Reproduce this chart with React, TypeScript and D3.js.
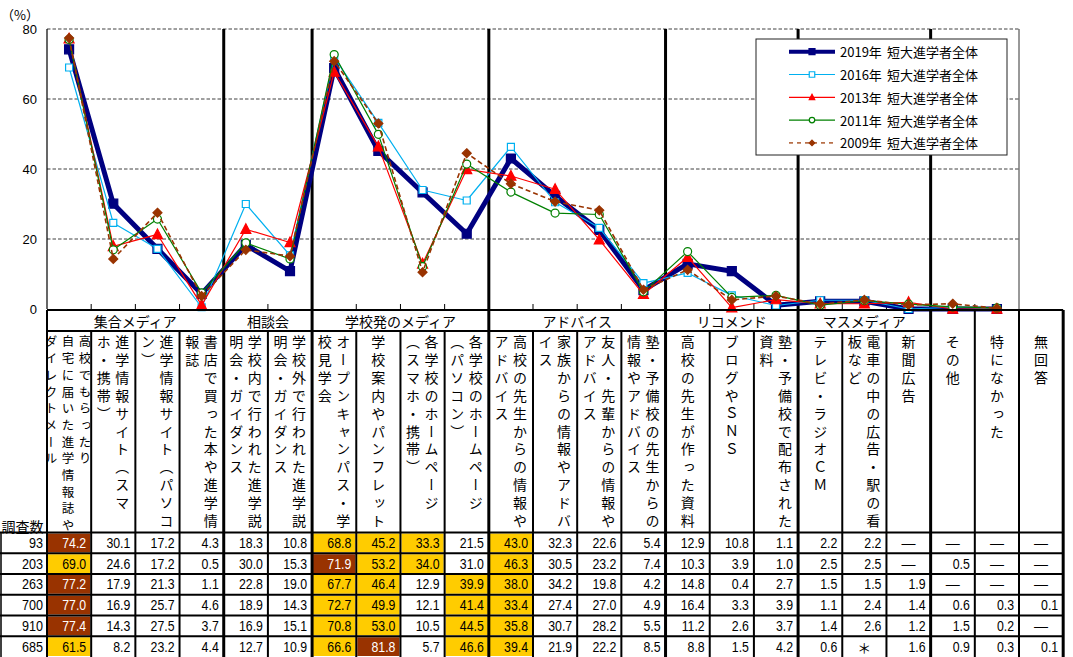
import React from 'react';
import * as d3 from 'd3';

// ---------- DATA ----------
const headerLines: string[][] = [
  ['高校でもらったり', '自宅に届いた進学情報誌や', 'ダイレクトメール'],
  ['進学情報サイト（スマ', 'ホ・携帯）'],
  ['進学情報サイト（パソコ', 'ン）'],
  ['書店で買った本や進学情', '報誌'],
  ['学校内で行われた進学説', '明会・ガイダンス'],
  ['学校外で行われた進学説', '明会・ガイダンス'],
  ['オープンキャンパス・学', '校見学会'],
  ['学校案内やパンフレット'],
  ['各学校のホームページ', '（スマホ・携帯）'],
  ['各学校のホームページ', '（パソコン）'],
  ['高校の先生からの情報や', 'アドバイス'],
  ['家族からの情報やアドバ', 'イス'],
  ['友人・先輩からの情報や', 'アドバイス'],
  ['塾・予備校の先生からの', '情報やアドバイス'],
  ['高校の先生が作った資料'],
  ['ブログやＳＮＳ'],
  ['塾・予備校で配布された', '資料'],
  ['テレビ・ラジオＣＭ'],
  ['電車の中の広告・駅の看', '板など'],
  ['新聞広告'],
  ['その他'],
  ['特になかった'],
  ['無回答'],
];

const groupNames = ['集合メディア', '相談会', '学校発のメディア', 'アドバイス', 'リコメンド', 'マスメディア'];
const groupStarts = [0, 4, 6, 10, 14, 17];
const groupEnds = [4, 6, 10, 14, 17, 20];

const seriesYears = ['2019年', '2016年', '2013年', '2011年', '2009年'];
const seriesLabel = '短大進学者全体';

const v2019: (number | null)[] = [74.2, 30.1, 17.2, 4.3, 18.3, 10.8, 68.8, 45.2, 33.3, 21.5, 43.0, 32.3, 22.6, 5.4, 12.9, 10.8, 1.1, 2.2, 2.2, null, null, null, null];
const v2016: (number | null)[] = [69.0, 24.6, 17.2, 0.5, 30.0, 15.3, 71.9, 53.2, 34.0, 31.0, 46.3, 30.5, 23.2, 7.4, 10.3, 3.9, 1.0, 2.5, 2.5, null, 0.5, null, null];
const v2013: (number | null)[] = [77.2, 17.9, 21.3, 1.1, 22.8, 19.0, 67.7, 46.4, 12.9, 39.9, 38.0, 34.2, 19.8, 4.2, 14.8, 0.4, 2.7, 1.5, 1.5, 1.9, null, null, null];
const v2011: (number | null)[] = [77.0, 16.9, 25.7, 4.6, 18.9, 14.3, 72.7, 49.9, 12.1, 41.4, 33.4, 27.4, 27.0, 4.9, 16.4, 3.3, 3.9, 1.1, 2.4, 1.4, 0.6, 0.3, 0.1];
const v2009: (number | null)[] = [77.4, 14.3, 27.5, 3.7, 16.9, 15.1, 70.8, 53.0, 10.5, 44.5, 35.8, 30.7, 28.2, 5.5, 11.2, 2.6, 3.7, 1.4, 2.6, 1.2, 1.5, 0.2, null];
const extraRow: (number | string | null)[] = [61.5, 8.2, 23.2, 4.4, 12.7, 10.9, 66.6, 81.8, 5.7, 46.6, 39.4, 21.9, 22.2, 8.5, 8.8, 1.5, 4.2, 0.6, '*', 1.6, 0.9, 0.3, 0.1];
const sampleSizes = [93, 203, 263, 700, 910, 685];
const yTicks = [0, 20, 40, 60, 80];
const surveyLabel = '調査数';
const unitLabel = '（%）';

// ---------- LAYOUT ----------
const W = 1073, H = 657;
const plotL = 47, plotR = 1019, plotT = 29, plotB = 309;
const PLOTTED = 22;
const JP = "'Noto Sans CJK JP', 'Noto Sans', sans-serif";
const NUM = "'Liberation Sans', Arial, sans-serif";

const seriesStyles = [
  { color: '#000080', width: 5, marker: 'square', fill: '#000080', size: 9, dash: undefined as string | undefined },
  { color: '#00B0F0', width: 1.2, marker: 'square', fill: '#ffffff', size: 7, dash: undefined },
  { color: '#FF0000', width: 1.2, marker: 'triangle', fill: '#FF0000', size: 10, dash: undefined },
  { color: '#008000', width: 1.2, marker: 'circle', fill: '#ffffff', size: 8, dash: undefined },
  { color: '#993300', width: 1.6, marker: 'diamond', fill: '#993300', size: 9, dash: '5,3' },
];

function markerPath(kind: string, s: number) {
  if (kind === 'square') return `M${-s / 2},${-s / 2}h${s}v${s}h${-s}Z`;
  if (kind === 'triangle') return `M0,${-s * 0.55}L${s / 2},${s * 0.42}L${-s / 2},${s * 0.42}Z`;
  if (kind === 'diamond') return `M0,${-s / 2}L${s / 2},0L0,${s / 2}L${-s / 2},0Z`;
  return '';
}

function Marker({ kind, x, y, s, color, fill }: any) {
  if (kind === 'circle') {
    return <circle cx={x} cy={y} r={s / 2} fill={fill} stroke={color} strokeWidth={1.2} />;
  }
  return <path d={markerPath(kind, s)} transform={`translate(${x},${y})`} fill={fill} stroke={color} strokeWidth={1.2} />;
}

// one vertical text per column, written top to bottom
function VText({ text, x, yFirst, pitch, fs }: any) {
  const ls = pitch - fs;
  return (
    <text
      x={x}
      y={yFirst - fs / 2}
      fontSize={fs}
      fontFamily={JP}
      style={{ writingMode: 'vertical-rl', letterSpacing: `${ls}px` } as any}
    >
      {text}
    </text>
  );
}

export default function App() {
  const x = d3.scaleBand<number>().domain(d3.range(PLOTTED)).range([plotL, plotR]).paddingInner(0).paddingOuter(0);
  const step = x.step();
  const edge = (i: number) => plotL + i * step;
  const cx = (i: number) => (x(i) as number) + x.bandwidth() / 2;
  const y = d3.scaleLinear().domain([0, 80]).range([plotB, plotT]);

  const allSeries = [v2019, v2016, v2013, v2011, v2009];
  const line = d3.line<number | null>()
    .x((_, i) => cx(i))
    .y((d) => y(d ?? 0));

  const groupBounds = new Set([4, 6, 10, 14, 17, 20]);

  // table geometry
  const tTop = 310, gRowB = 331, headB = 532.5, rowH = 20.75;
  const tableRows: (number | string | null)[][] = [v2019, v2016, v2013, v2011, v2009, extraRow];
  const nCols = headerLines.length;
  const tableR = edge(nCols);

  const legendX = 756, legendY = 39, legendW = 251, legendH = 116;
  const legendRow0 = 51.7, legendStep = 22.8;

  return (
    <svg width={W} height={H} style={{ position: 'absolute', left: 0, top: 0, display: 'block', background: '#fff' }}>
      <rect x={0} y={0} width={W} height={H} fill="#fff" />
      {/* unit label */}
      <text x={1} y={14} fontSize={13} fontFamily={JP} dominantBaseline="central">{unitLabel}</text>

      {/* gridlines */}
      {yTicks.filter((t) => t > 0).map((t) => (
        <line key={t} x1={plotL} x2={plotR} y1={y(t)} y2={y(t)} stroke="#404040" strokeWidth={1} strokeDasharray="3.5,2" />
      ))}
      {/* y tick labels */}
      {yTicks.map((t) => (
        <text key={t} x={37} y={y(t)} fontSize={13} fontFamily={NUM} textAnchor="end" dominantBaseline="central">{t}</text>
      ))}
      {/* axis lines / borders */}
      <line x1={plotL} x2={plotL} y1={plotT} y2={plotB} stroke="#000" strokeWidth={1.2} />
      <line x1={plotR} x2={plotR} y1={plotT} y2={plotB} stroke="#333" strokeWidth={1} />
      {/* x ticks */}
      {d3.range(1, PLOTTED).filter((i) => !groupBounds.has(i)).map((i) => (
        <line key={i} x1={edge(i)} x2={edge(i)} y1={304} y2={plotB} stroke="#000" strokeWidth={1} />
      ))}
      {/* group separators in plot */}
      {Array.from(groupBounds).map((i) => (
        <line key={i} x1={edge(i)} x2={edge(i)} y1={plotT} y2={plotB} stroke="#000" strokeWidth={3} />
      ))}

      {/* series */}
      {allSeries.map((vals, si) => {
        const st = seriesStyles[si];
        const pts = vals.slice(0, PLOTTED);
        return (
          <g key={si}>
            <path d={line(pts) || ''} fill="none" stroke={st.color} strokeWidth={st.width} strokeDasharray={st.dash} strokeLinejoin="round" />
            {pts.map((v, i) => (
              <Marker key={i} kind={st.marker} x={cx(i)} y={y(v ?? 0)} s={st.size} color={st.color} fill={st.fill} />
            ))}
          </g>
        );
      })}

      {/* legend */}
      <rect x={legendX} y={legendY} width={legendW} height={legendH} fill="#fff" stroke="#222" strokeWidth={1} />
      {seriesYears.map((yr, si) => {
        const st = seriesStyles[si];
        const ly = legendRow0 + si * legendStep;
        return (
          <g key={si}>
            <line x1={789} x2={835} y1={ly} y2={ly} stroke={si === 4 ? '#B8704A' : st.color} strokeWidth={si === 0 ? 4 : st.width} strokeDasharray={si === 4 ? '4,4' : undefined} />
            <Marker kind={st.marker} x={812} y={ly} s={si === 0 ? 6 : 5.5} color={st.color} fill={st.fill} />
            <text x={840} y={ly} fontSize={13} fontFamily={JP} dominantBaseline="central">{yr}</text>
            <text x={887} y={ly} fontSize={13} fontFamily={JP} dominantBaseline="central">{seriesLabel}</text>
          </g>
        );
      })}

      {/* ---------- TABLE ---------- */}
      {/* cell highlights */}
      {tableRows.map((row, r) => {
        const nums = row.filter((v) => typeof v === 'number') as number[];
        const sorted = [...nums].sort((a, b) => b - a);
        const top = headB + r * rowH;
        return row.map((v, c) => {
          if (typeof v !== 'number') return null;
          const rank = sorted.indexOf(v);
          if (rank > 4) return null;
          return (
            <rect key={`h${r}-${c}`} x={edge(c) + 1} y={top + 1} width={step - 2} height={rowH - 2} fill={rank === 0 ? '#993300' : '#FFCC00'} />
          );
        });
      })}
      {/* group header row */}
      {groupNames.map((g, gi) => (
        <text key={g} x={(edge(groupStarts[gi]) + edge(groupEnds[gi])) / 2} y={321} fontSize={14} fontFamily={JP} textAnchor="middle" dominantBaseline="central">{g}</text>
      ))}
      {/* vertical header text */}
      <defs>
        {headerLines.map((_, c) => (
          <clipPath key={c} id={`hc${c}`}>
            <rect x={edge(c) + 1} y={tTop} width={step - 2} height={headB - tTop} />
          </clipPath>
        ))}
      </defs>
      {headerLines.map((cols, c) => {
        const center = edge(c) + step / 2;
        let offsets: number[];
        let fs = 14, pitch = 17.9;
        if (cols.length === 3) { offsets = [16, -1, -18]; fs = 12.5; pitch = 16.7; }
        else if (cols.length === 2) offsets = [9, -9.5];
        else offsets = [0];
        return (
          <g key={c} clipPath={`url(#hc${c})`}>
            {cols.map((t, k) => (
              <VText key={k} text={t} x={center + offsets[k]} yFirst={341.7} pitch={pitch} fs={fs} />
            ))}
          </g>
        );
      })}
      <text x={1.5} y={526} fontSize={14} fontFamily={JP} dominantBaseline="central">{surveyLabel}</text>

      {/* data cells */}
      {tableRows.map((row, r) => {
        const top = headB + r * rowH;
        const nums = row.filter((v) => typeof v === 'number') as number[];
        const maxV = d3.max(nums);
        return (
          <g key={r}>
            <text x={43} y={top + rowH / 2 + 5} fontSize={14} fontFamily={NUM} textAnchor="end" transform={`translate(43,0) scale(0.9,1) translate(-43,0)`}>{sampleSizes[r]}</text>
            {row.map((v, c) => {
              const cyy = top + rowH / 2;
              if (v === null || v === '*') {
                return (
                  <text key={c} x={edge(c) + step / 2} y={cyy} fontSize={14} fontFamily={v === '*' ? JP : NUM} textAnchor="middle" dominantBaseline="central">{v === null ? '—' : '＊'}</text>
                );
              }
              const xr = edge(c + 1) - 5;
              return (
                <text key={c} x={xr} y={cyy + 5} fontSize={14} fontFamily={NUM} textAnchor="end" fill={v === maxV ? '#fff' : '#000'} transform={`translate(${xr},0) scale(0.88,1) translate(${-xr},0)`}>{(v as number).toFixed(1)}</text>
              );
            })}
          </g>
        );
      })}

      {/* table lines */}
      <line x1={plotL} x2={tableR} y1={tTop} y2={tTop} stroke="#000" strokeWidth={2} />
      <line x1={plotL} x2={edge(20)} y1={gRowB} y2={gRowB} stroke="#000" strokeWidth={2} />
      {d3.range(0, 6).map((k) => (
        <line key={k} x1={0} x2={tableR} y1={headB + k * rowH} y2={headB + k * rowH} stroke="#000" strokeWidth={2} />
      ))}
      <line x1={1} x2={1} y1={headB} y2={H} stroke="#000" strokeWidth={1.5} />
      <line x1={plotL} x2={plotL} y1={tTop} y2={H} stroke="#000" strokeWidth={2} />
      {d3.range(1, nCols + 1).map((i) => {
        const full = groupBounds.has(i) || i >= 20;
        return (
          <line key={i} x1={edge(i)} x2={edge(i)} y1={full ? tTop : gRowB} y2={H} stroke="#000" strokeWidth={groupBounds.has(i) || i === nCols ? 3 : 2} />
        );
      })}
    </svg>
  );
}
